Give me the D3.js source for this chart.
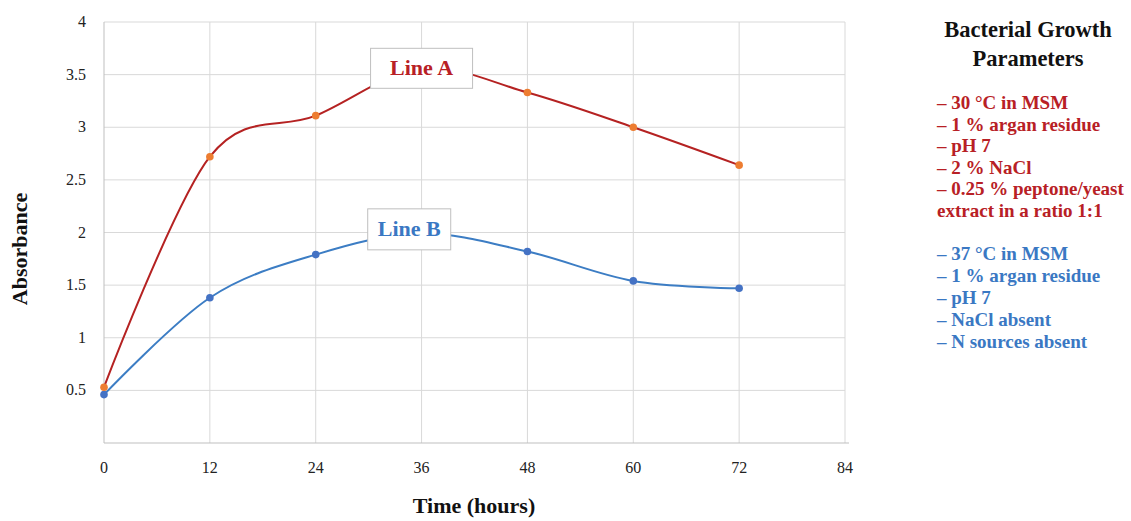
<!DOCTYPE html>
<html><head><meta charset="utf-8">
<script src="https://cdn.jsdelivr.net/npm/d3@7"></script>
<style>body{margin:0;background:#fff;} svg{display:block;font-family:"Liberation Serif",serif;}</style>
</head><body>
<svg id="c" width="1131" height="521"></svg>
<script>
const hours = [0, 12, 24, 36, 48, 60, 72];
const lineA = [0.53, 2.72, 3.11, 3.56, 3.33, 3.00, 2.64];
const lineB = [0.46, 1.38, 1.79, 1.99, 1.82, 1.54, 1.47];
const xTicks = [0, 12, 24, 36, 48, 60, 72, 84];
const yTicks = [0.5, 1, 1.5, 2, 2.5, 3, 3.5, 4];
const legendTitle = ["Bacterial Growth", "Parameters"];
const paramsA = ["– 30 °C in MSM", "– 1 % argan residue", "– pH 7", "– 2 % NaCl", "– 0.25 % peptone/yeast", "extract in a ratio 1:1"];
const paramsB = ["– 37 °C in MSM", "– 1 % argan residue", "– pH 7", "– NaCl absent", "– N sources absent"];

const svg = d3.select("#c");
const x = d3.scaleLinear().domain([0, 84]).range([104, 845]);
const y = d3.scaleLinear().domain([0, 4]).range([443, 22]);
const redLine = "#B52222", redPt = "#ED7D31", blueLine = "#3C7DC4", bluePt = "#4472C4";
const redText = "#B82025", blueText = "#3A78C3";

// gridlines
svg.append("g").selectAll("line").data(yTicks).join("line")
  .attr("x1", x(0)).attr("x2", x(84)).attr("y1", d => y(d)).attr("y2", d => y(d))
  .attr("stroke", "#D9D9D9").attr("stroke-width", 1);
svg.append("g").selectAll("line").data(xTicks.slice(1)).join("line")
  .attr("y1", y(0)).attr("y2", y(4)).attr("x1", d => x(d)).attr("x2", d => x(d))
  .attr("stroke", "#D9D9D9").attr("stroke-width", 1);
// axis lines
svg.append("line").attr("x1", x(0)).attr("x2", x(0)).attr("y1", y(0)).attr("y2", y(4)).attr("stroke", "#BFBFBF");
svg.append("line").attr("x1", x(0)).attr("x2", x(84) + 4).attr("y1", y(0)).attr("y2", y(0)).attr("stroke", "#BFBFBF");

// tick labels
svg.append("g").selectAll("text").data(yTicks).join("text")
  .attr("x", 86).attr("y", d => y(d) + 5).attr("text-anchor", "end")
  .attr("font-size", 16).attr("fill", "#222").text(d => d);
svg.append("g").selectAll("text").data(xTicks).join("text")
  .attr("x", d => x(d)).attr("y", 473).attr("text-anchor", "middle")
  .attr("font-size", 16).attr("fill", "#222").text(d => d);

// axis titles
svg.append("text").attr("transform", "translate(27,249) rotate(-90)").attr("text-anchor", "middle")
  .attr("font-size", 22).attr("font-weight", "bold").attr("fill", "#111").text("Absorbance");
svg.append("text").attr("x", 474).attr("y", 513).attr("text-anchor", "middle")
  .attr("font-size", 22).attr("font-weight", "bold").attr("fill", "#111").text("Time (hours)");

// lines
const gen = d3.line().x(d => x(d[0])).y(d => y(d[1])).curve(d3.curveCardinal.tension(0));
function series(vals, lc, pc) {
  const pts = hours.map((h, i) => [h, vals[i]]);
  svg.append("path").datum(pts).attr("d", gen).attr("fill", "none").attr("stroke", lc).attr("stroke-width", 2);
  svg.append("g").selectAll("circle").data(pts).join("circle")
    .attr("cx", d => x(d[0])).attr("cy", d => y(d[1])).attr("r", 3.8).attr("fill", pc);
}
series(lineB, blueLine, bluePt);
series(lineA, redLine, redPt);

// data labels
function label(cx, cy, w, h, txt, col) {
  const g = svg.append("g");
  g.append("rect").attr("x", cx - w / 2).attr("y", cy - h / 2).attr("width", w).attr("height", h)
    .attr("fill", "#fff").attr("stroke", "#BFBFBF").attr("stroke-width", 1);
  g.append("text").attr("x", cx).attr("y", cy + 7).attr("text-anchor", "middle")
    .attr("font-size", 22).attr("font-weight", "bold").attr("fill", col).text(txt);
}
label(x(36), y(lineA[3]), 102, 40, "Line A", redText);
label(x(34.6), y(2.03), 83, 41, "Line B", blueText);

// legend
svg.append("g").selectAll("text").data(legendTitle).join("text")
  .attr("x", 1028).attr("y", (d, i) => 37 + i * 29).attr("text-anchor", "middle")
  .attr("font-size", 22.5).attr("font-weight", "bold").attr("fill", "#111").text(d => d);
svg.append("g").selectAll("text").data(paramsA).join("text")
  .attr("x", 937).attr("y", (d, i) => 109 + i * 21.6)
  .attr("font-size", 19).attr("font-weight", "bold").attr("fill", redText).text(d => d);
svg.append("g").selectAll("text").data(paramsB).join("text")
  .attr("x", 937).attr("y", (d, i) => 260 + i * 22)
  .attr("font-size", 19).attr("font-weight", "bold").attr("fill", blueText).text(d => d);
</script>
</body></html>
